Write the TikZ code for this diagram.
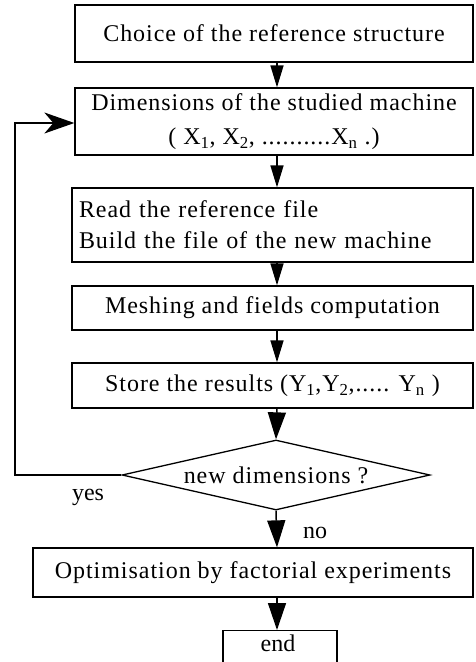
\documentclass[tikz,border=0pt]{standalone}
\usepackage{fontspec}
\setmainfont{Liberation Serif}
\newfontfamily\boxfont[LetterSpace=4]{Liberation Serif}
\usetikzlibrary{arrows.meta,shapes.geometric}
\begin{document}
\begin{tikzpicture}[x=1pt,y=-1pt,
  every node/.style={font=\boxfont\fontsize{24}{28}\selectfont},
  stepbox/.style={draw,line width=1.3pt,inner sep=0pt,align=center},
  lbl/.style={font=\fontsize{24}{28}\selectfont},
  flow/.style={line width=1.5pt,-{Triangle[length=22pt,width=13pt]}},
  bigflow/.style={line width=1.5pt,-{Triangle[length=27pt,width=18pt]}},
  back/.style={line width=1.3pt,-{Stealth[length=30pt,width=21pt,inset=9pt]}}]
\useasboundingbox (0,0) rectangle (475,662);
\node[stepbox,minimum width=398pt,minimum height=57pt] (b1) at (274,33.5) {Choice of the reference structure};
\node[stepbox,minimum width=398pt,minimum height=67pt,font=\boxfont\fontsize{24}{34}\selectfont] (b2) at (274,121.5) {Dimensions of the studied machine\\( X\textsubscript{1}, X\textsubscript{2}, ..........X\textsubscript{n} .)};
\node[stepbox,minimum width=401pt,minimum height=74pt,align=left,text width=387pt,font=\boxfont\fontsize{24}{31}\selectfont] (b3) at (272.5,225) {Read the reference file\\Build the file of the new machine};
\node[stepbox,minimum width=401pt,minimum height=44pt] (b4) at (272.5,308) {Meshing and fields computation};
\node[stepbox,minimum width=401pt,minimum height=45pt] (b5) at (272.5,385.5) {Store the results (Y\textsubscript{1},Y\textsubscript{2},..... Y\textsubscript{n} )};
\node[draw,line width=1.3pt,diamond,aspect=4.4,inner sep=0pt,minimum width=308pt,minimum height=70pt] (d) at (276,475) {new dimensions ?};
\node[stepbox,minimum width=440pt,minimum height=49pt] (b6) at (253,572.5) {Optimisation by factorial experiments};
\node[stepbox,minimum width=114pt,minimum height=44pt,anchor=north] (e) at (280,630) {};
\node[lbl] (et) at (278,643) {end};
\coordinate (ax) at (277,0);
\coordinate (c1) at (15,482);
\coordinate (c2) at (15,123);
\node[lbl] (yes) at (88,497) {yes};
\node[lbl] (no) at (315,533) {no};
\draw[flow] (b1.south -| ax) -- (b2.north -| ax);
\draw[flow] (b2.south -| ax) -- (b3.north -| ax);
\draw[flow] (b3.south -| ax) -- (b4.north -| ax);
\draw[flow] (b4.south -| ax) -- (b5.north -| ax);
\draw[bigflow] (b5.south -| ax) -- (d.north);
\draw[bigflow] (d.south) -- (b6.north -| ax);
\draw[bigflow] (b6.south -| ax) -- (e.north -| ax);
\draw[back] (d.west) -- (c1 |- d.west) -- (c2) -- (c2 -| b2.west);
\end{tikzpicture}
\end{document}
